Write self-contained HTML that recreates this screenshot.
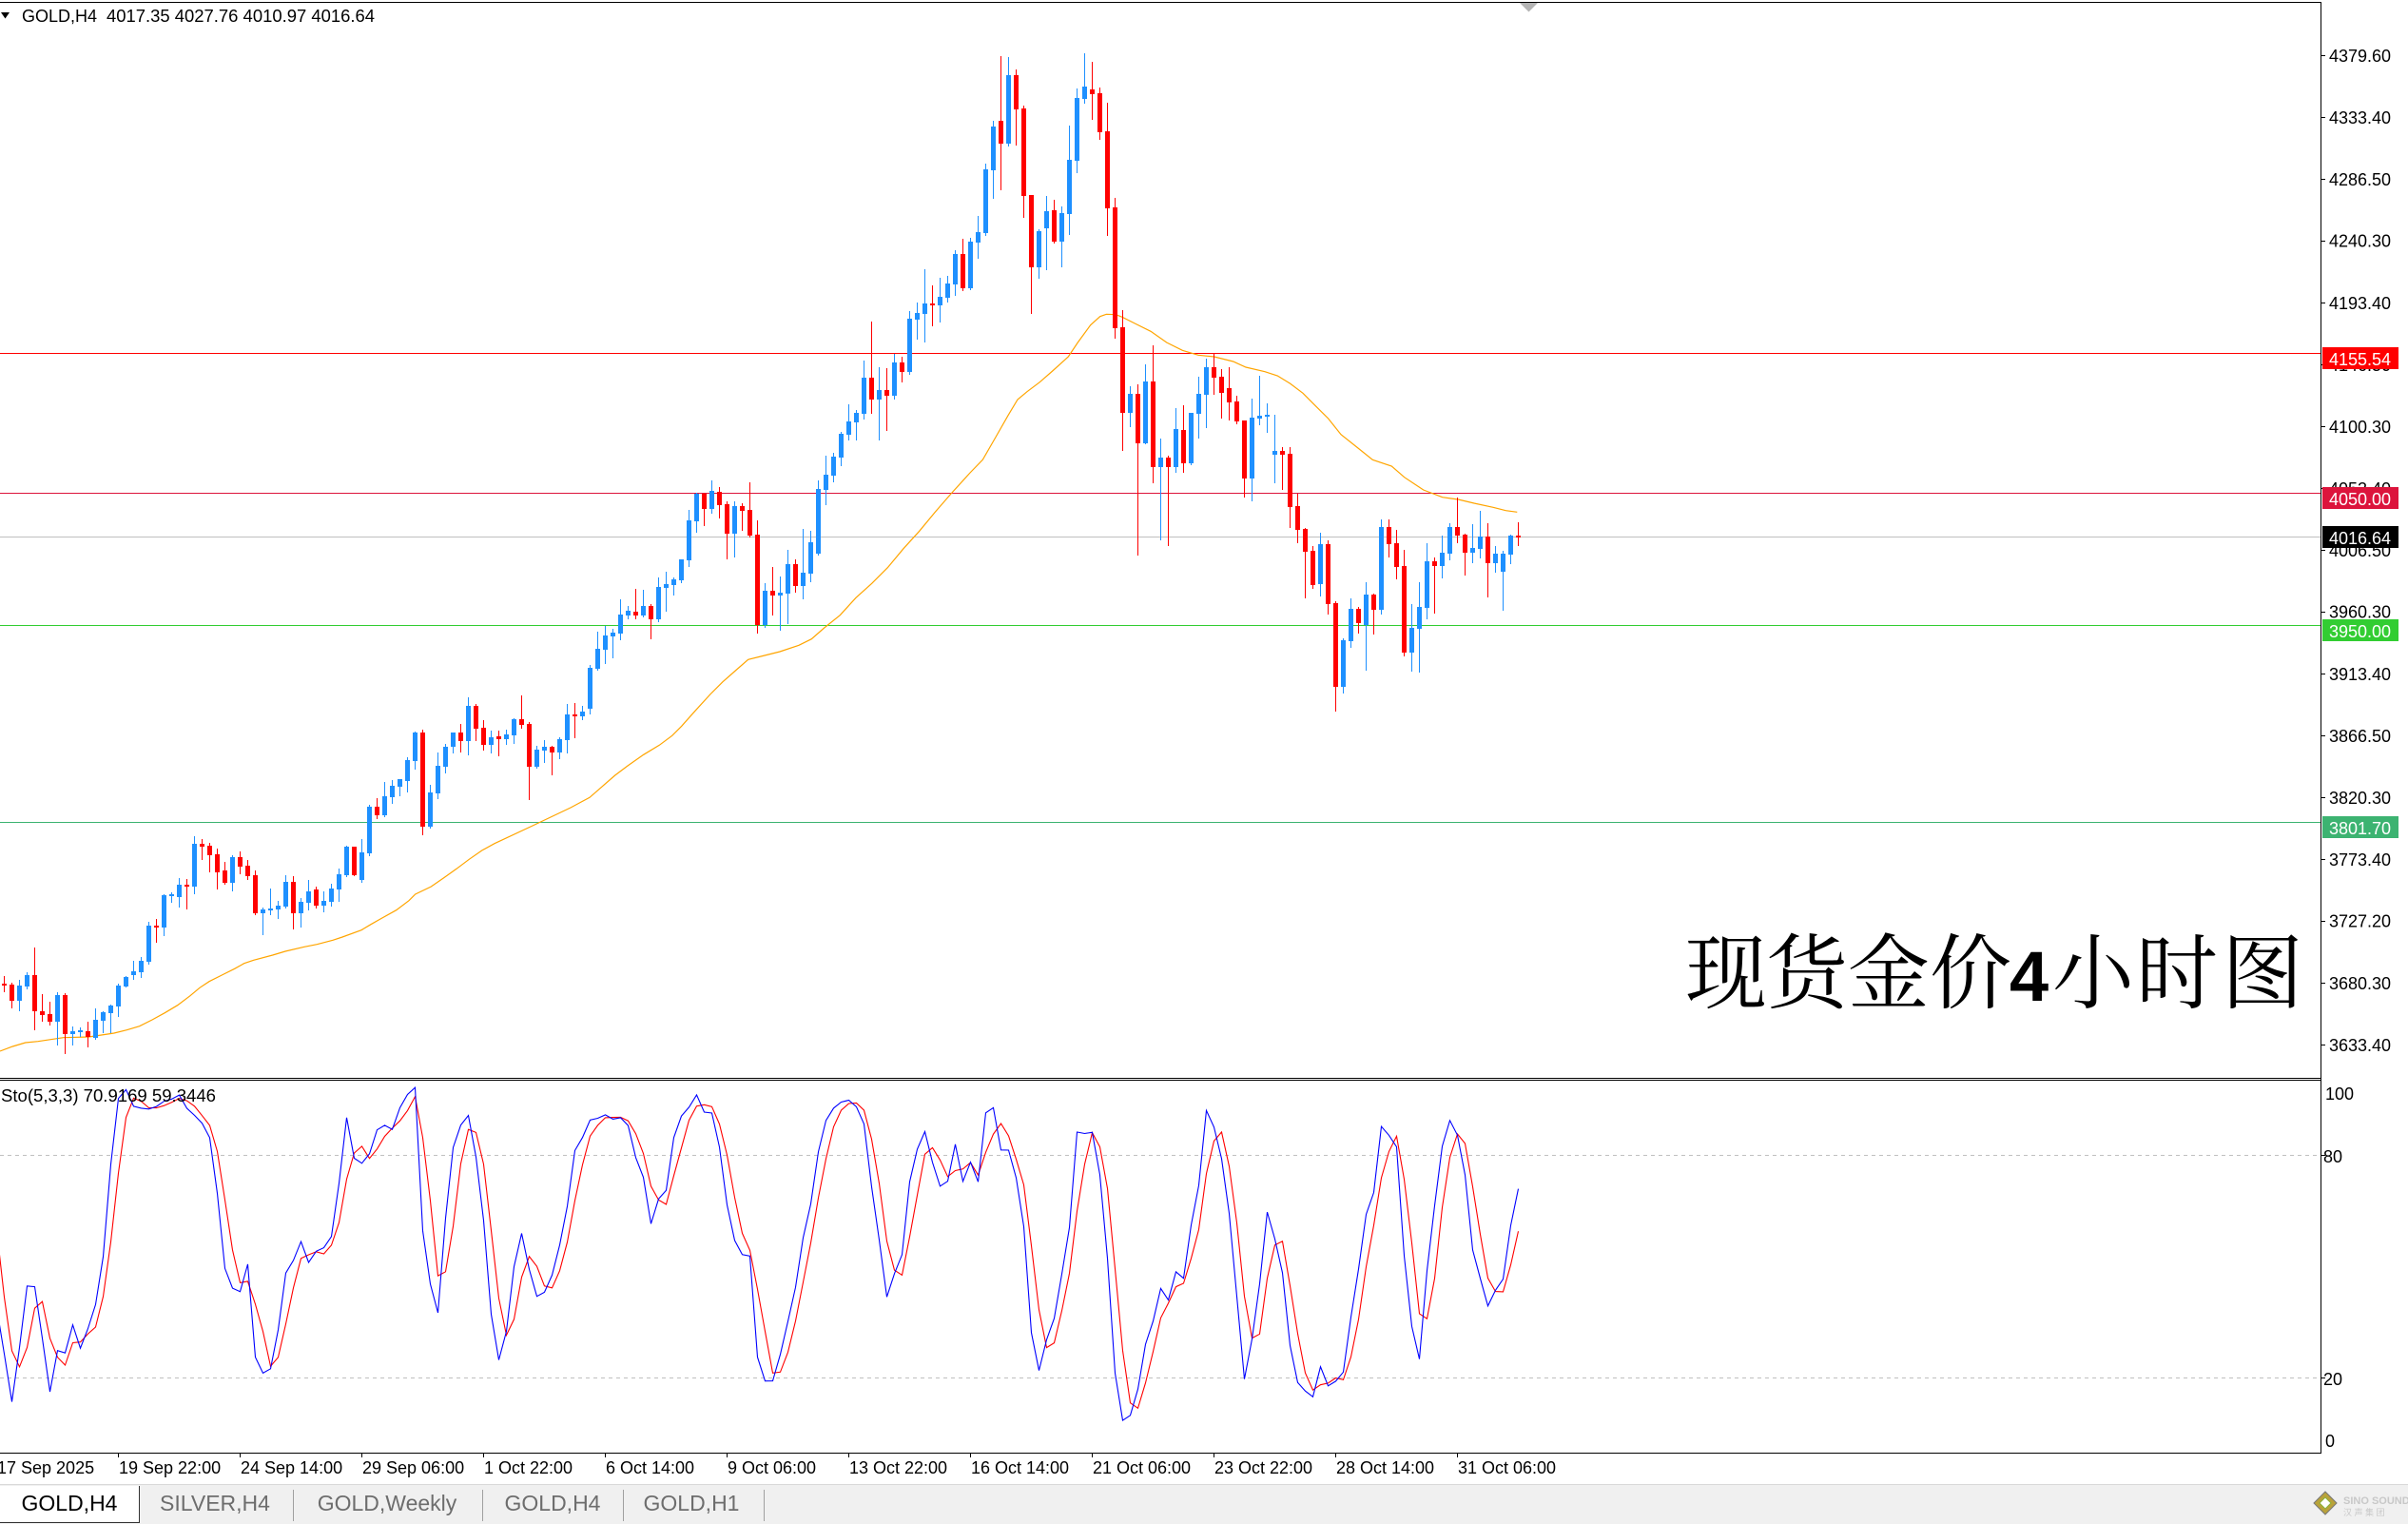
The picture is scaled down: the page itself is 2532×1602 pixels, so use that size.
<!DOCTYPE html>
<html><head><meta charset="utf-8">
<style>
html,body{margin:0;padding:0;background:#fff;width:2532px;height:1602px;overflow:hidden}
svg{display:block}
text{font-family:"Liberation Sans",sans-serif}
</style></head><body>
<svg id="c" width="2532" height="1602" viewBox="0 0 2532 1602" xmlns="http://www.w3.org/2000/svg">
<rect width="2532" height="1602" fill="#fff"/>

<!-- horizontal level lines -->
<g shape-rendering="crispEdges" stroke-width="1">
<line x1="0" x2="2440" y1="371.5" y2="371.5" stroke="#ff0000"/>
<line x1="0" x2="2440" y1="518.5" y2="518.5" stroke="#dc143c"/>
<line x1="0" x2="2440" y1="564.5" y2="564.5" stroke="#c0c0c0"/>
<line x1="0" x2="2440" y1="657.5" y2="657.5" stroke="#32cd32"/>
<line x1="0" x2="2440" y1="864.5" y2="864.5" stroke="#3cb371"/>
</g>

<!-- MA -->
<polyline fill="none" stroke="#ffa500" stroke-width="1.2" points="0,1105 13.3,1100 26.7,1096 40,1094.7 53.3,1092.7 66.7,1090.7 93.3,1090 106.7,1088 120,1086 133.3,1082.7 146.7,1078.7 160,1072 173.3,1064.7 186.7,1056.7 200,1046.7 210,1038.3 220,1031.7 233.3,1025 246.7,1018.3 256.7,1012.7 266.7,1009.3 286.7,1004 300,1000 320,995.3 333.3,992.7 350,988.3 360,985 380,977.7 390,971.7 400,966 416.7,956.7 430,946.7 436.7,940 453.3,932 466.7,922.7 480,913.3 493.3,903.3 506.7,894 520,886.7 560,868 600,849 620,838.3 633.3,826.7 646.7,815 660,805 676.7,793.3 693.3,783.3 706.7,773.3 716.7,763.3 730,748.3 746.7,730 760,716.7 773.3,705 786.7,693.3 800,690 820,685 840,678.3 853.3,671.7 866.7,660 883.3,646.7 900,628.3 916.7,613.3 933.3,596.7 950,576.7 966.7,558.3 983.3,538.3 1000,519 1020,497 1033.3,483.3 1046.7,460 1060,436.7 1070,420 1080,411.7 1093.3,401.7 1106.7,390 1123.3,375 1133.3,360 1146.7,341.7 1156.7,332.7 1163.3,330.3 1173.3,330.7 1180,333.3 1193.3,340 1210,348.3 1226.7,360 1243.3,368.3 1260,373.3 1276.7,375 1296.7,380 1310,386 1330,390.7 1343.3,395 1356.7,403.3 1370,413.3 1383.3,426.7 1396.7,440 1410,456.7 1426.7,470 1443.3,483.3 1463.3,490 1476.7,501.7 1496.7,515 1516.7,522.7 1533.3,525 1550,529 1570,533.3 1583.3,536.7 1595.3,538.3"/>

<g id="candles" shape-rendering="crispEdges"></g>

<!-- big title -->
<g font-size="86" fill="#000">
<text x="1772" y="1053" style="font-family:'Noto Serif CJK SC',serif">现</text>
<text x="1857" y="1053" style="font-family:'Noto Serif CJK SC',serif">货</text>
<text x="1943" y="1053" style="font-family:'Noto Serif CJK SC',serif">金</text>
<text x="2029" y="1053" style="font-family:'Noto Serif CJK SC',serif">价</text>
<text x="2158" y="1053" style="font-family:'Noto Serif CJK SC',serif">小</text>
<text x="2246" y="1053" style="font-family:'Noto Serif CJK SC',serif">时</text>
<text x="2336" y="1053" style="font-family:'Noto Serif CJK SC',serif">图</text>
</g>
<text x="2113" y="1052" font-size="74" font-weight="bold" fill="#000">4</text>

<!-- stochastic pane -->
<g shape-rendering="crispEdges">
<line x1="0" x2="2440" y1="1214.5" y2="1214.5" stroke="#c0c0c0" stroke-dasharray="4,4"/>
<line x1="0" x2="2440" y1="1448.5" y2="1448.5" stroke="#c0c0c0" stroke-dasharray="4,4"/>
</g>
<g id="stoch"></g>

<!-- frame -->
<g shape-rendering="crispEdges" fill="#000">
<rect x="0" y="2" width="2441" height="1"/>
<rect x="2440" y="2" width="1" height="1526"/>
<rect x="0" y="1133" width="2441" height="1"/>
<rect x="0" y="1135" width="2441" height="1"/>
<rect x="0" y="1527" width="2441" height="1"/>
</g>
<polygon points="1598,3 1617,3 1607.5,12.5" fill="#b4b4b4"/>

<!-- header -->
<polygon points="1,13 10,13 5.5,19.5" fill="#000"/>
<text x="23" y="23" font-size="18" fill="#000">GOLD,H4</text>
<text x="112" y="23" font-size="18" fill="#000" textLength="282" lengthAdjust="spacingAndGlyphs">4017.35 4027.76 4010.97 4016.64</text>
<text x="1" y="1158" font-size="18" fill="#000" textLength="226" lengthAdjust="spacingAndGlyphs">Sto(5,3,3) 70.9169 59.3446</text>

<!-- price axis -->
<g id="pax" font-size="18" fill="#000"></g>
<g shape-rendering="crispEdges" font-size="18">
<rect x="2442" y="365" width="80" height="23" fill="#ff0000"/>
<text x="2449" y="384" fill="#fff">4155.54</text>
<rect x="2442" y="512" width="80" height="23" fill="#dc143c"/>
<text x="2449" y="531" fill="#fff">4050.00</text>
<rect x="2442" y="553" width="80" height="23" fill="#000"/>
<text x="2449" y="572" fill="#fff">4016.64</text>
<rect x="2442" y="651" width="80" height="23" fill="#32cd32"/>
<text x="2449" y="670" fill="#fff">3950.00</text>
<rect x="2442" y="858" width="80" height="23" fill="#3cb371"/>
<text x="2449" y="877" fill="#fff">3801.70</text>
</g>
<g font-size="18" fill="#000">
<text x="2445" y="1156">100</text>
<text x="2443" y="1222">80</text>
<text x="2443" y="1456">20</text>
<text x="2445" y="1521">0</text>
</g>
<g shape-rendering="crispEdges" fill="#000">
<rect x="2440" y="1214" width="5" height="1"/>
<rect x="2440" y="1448" width="5" height="1"/>
</g>

<!-- time axis -->
<g id="tax" font-size="18" fill="#000"></g>

<!-- tab bar -->
<rect x="0" y="1560" width="2532" height="42" fill="#f0f0f0"/>
<rect x="0" y="1560" width="2532" height="1" fill="#d9d9d9" shape-rendering="crispEdges"/>
<rect x="0" y="1562" width="146" height="38" fill="#fff"/>
<g shape-rendering="crispEdges">
<rect x="146" y="1562" width="1" height="39" fill="#333"/>
<rect x="0" y="1600" width="147" height="1" fill="#333"/>
<rect x="308" y="1566" width="1" height="33" fill="#a0a0a0"/>
<rect x="507" y="1566" width="1" height="33" fill="#a0a0a0"/>
<rect x="655" y="1566" width="1" height="33" fill="#a0a0a0"/>
<rect x="803" y="1566" width="1" height="33" fill="#a0a0a0"/>
</g>
<g font-size="23" text-anchor="middle">
<text x="73" y="1588" fill="#000">GOLD,H4</text>
<text x="226" y="1588" fill="#6d6d6d">SILVER,H4</text>
<text x="407" y="1588" fill="#6d6d6d">GOLD,Weekly</text>
<text x="581" y="1588" fill="#6d6d6d">GOLD,H4</text>
<text x="727" y="1588" fill="#6d6d6d">GOLD,H1</text>
</g>
<!-- logo -->
<polygon points="2445,1568 2457,1580 2445,1592 2433,1580" fill="#b9a23a" stroke="#777" stroke-width="1"/>
<polygon points="2445,1574 2451,1580 2445,1586 2439,1580" fill="#fff" stroke="#8bb33a" stroke-width="1"/>
<text x="2464" y="1581" font-size="11" font-weight="bold" fill="#c8c8c8">SINO SOUND</text>
<text x="2464" y="1593" font-size="9" fill="#c8c8c8" style="font-family:'Liberation Sans','Noto Sans CJK SC',sans-serif">汉 声 集 团</text>
</svg>
<script>
(function(){
var D=[[1,1026,1034,1036,1042],[1,1033,1035,1052,1059],[0,1030,1036,1052,1062],[0,1022,1025,1037,1039],[1,996,1025,1063,1082],[1,1045,1063,1067,1073],[1,1053,1066,1074,1077],[0,1043,1046,1074,1098],[1,1044,1046,1087,1107],[0,1079,1084,1087,1098],
[0,1080,1083,1085,1089],[1,1074,1084,1090,1100],[0,1060,1072,1091,1092],[0,1063,1064,1073,1085],[0,1056,1057,1065,1085],[0,1034,1036,1058,1068],[0,1026,1027,1037,1037],[0,1010,1021,1025,1029],[0,1006,1010,1022,1027],[0,969,973,1011,1013],
[1,966,973,975,990],[0,940,941,975,983],[0,938,940,942,948],[0,923,930,943,953],[1,924,930,932,955],[0,879,887,932,939],[1,882,887,890,903],[1,886,889,899,916],[1,892,898,917,934],[1,906,915,928,929],
[0,899,901,928,936],[1,895,901,911,918],[1,904,910,921,924],[1,915,920,960,961],[0,954,956,960,982],[0,934,955,957,961],[0,947,952,956,965],[0,920,927,953,954],[1,921,927,960,976],[0,944,948,960,974],
[0,925,937,949,956],[1,932,935,952,954],[0,937,947,952,958],[0,929,934,948,952],[0,913,919,935,947],[0,889,890,920,921],[1,890,890,920,920],[0,882,896,925,927],[0,846,848,897,899],[1,839,848,857,860],
[0,822,837,857,858],[0,820,826,838,844],[0,819,819,827,836],[0,796,799,821,832],[0,769,770,800,808],[1,767,770,869,877],[0,825,833,869,870],[0,791,805,834,839],[0,782,785,806,812],[0,770,770,785,791],
[1,761,770,779,790],[0,733,742,779,793],[1,740,742,766,778],[1,757,765,783,788],[0,768,775,783,791],[1,768,774,777,794],[0,767,772,777,782],[0,755,756,773,781],[1,731,756,762,765],[1,759,761,806,840],
[0,784,788,806,807],[0,778,785,789,801],[1,784,785,791,814],[0,775,777,791,797],[0,740,751,778,791],[1,739,751,753,775],[0,742,748,753,756],[0,699,702,745,750],[0,664,682,703,704],[0,658,668,683,697],
[0,661,665,669,691],[0,630,646,666,672],[0,637,642,647,650],[1,619,643,647,650],[0,620,637,647,648],[1,635,637,651,671],[0,607,617,651,653],[0,601,614,618,642],[0,607,609,615,625],[0,588,588,610,612],
[0,536,547,589,595],[0,518,519,548,559],[1,518,519,535,552],[0,505,516,535,539],[1,512,517,531,544],[1,527,530,561,587],[0,527,532,561,585],[1,529,532,537,557],[1,507,536,563,564],[1,547,562,657,665],
[0,613,621,657,659],[1,596,621,626,646],[0,606,623,626,662],[0,578,593,624,655],[1,588,593,616,622],[0,556,602,616,629],[0,558,570,603,611],[0,505,514,582,583],[0,479,499,515,530],[0,476,480,500,506],
[0,454,456,481,489],[0,425,443,457,462],[0,431,434,444,462],[0,379,397,435,440],[1,338,397,420,434],[0,386,410,420,462],[1,387,410,416,452],[0,372,381,416,419],[1,375,381,391,401],[0,327,335,391,393],
[0,318,329,336,356],[0,283,319,330,359],[1,300,319,321,342],[0,292,312,321,338],[0,290,298,313,317],[0,263,267,299,310],[1,251,267,303,305],[0,250,254,303,304],[0,227,244,255,271],[0,172,178,245,247],
[0,127,133,179,208],[1,59,127,151,199],[0,60,79,151,153],[1,73,79,115,152],[1,111,114,206,228],[1,205,205,281,329],[0,241,243,281,292],[0,206,222,240,283],[1,210,221,254,255],[0,217,224,254,280],
[0,132,168,225,246],[0,93,103,169,181],[0,56,91,104,108],[1,65,94,99,125],[1,92,98,139,146],[1,108,138,219,247],[1,208,218,345,355],[1,326,344,434,473],[0,406,414,434,448],[1,404,414,466,583],
[0,383,401,466,466],[1,363,401,491,507],[0,461,481,491,567],[1,479,481,491,573],[0,429,451,491,496],[1,426,452,487,496],[0,434,434,487,488],[0,396,414,435,460],[0,377,386,415,449],[1,372,386,397,414],
[1,388,396,413,439],[1,386,408,423,441],[1,416,422,443,445],[1,442,442,503,522],[0,419,439,503,526],[0,395,437,440,446],[0,424,436,438,454],[0,436,474,478,507],[1,470,474,478,514],[1,470,477,533,554],
[1,519,532,557,570],[1,555,556,580,628],[1,574,579,615,618],[0,560,572,614,626],[1,568,572,635,645],[1,632,634,722,747],[0,671,673,722,728],[0,629,640,674,680],[1,638,640,655,665],[0,612,625,657,704],
[1,624,625,641,666],[0,546,554,641,645],[1,546,554,572,585],[1,557,571,596,608],[1,578,595,686,689],[0,635,660,686,705],[0,612,638,661,706],[0,571,590,639,650],[1,586,590,595,644],[0,563,581,595,607],
[0,550,554,582,588],[1,523,554,563,570],[1,561,562,581,604],[0,551,576,581,591],[0,537,564,577,586],[1,550,564,592,627],[0,574,582,592,601],[0,579,582,601,641],[0,562,563,583,592],[1,549,563,565,573]];
var n=D.length,s="",i,j;
for(i=0;i<n;i++){var d=D[i],x=4+8*i,col=d[0]?"#ff0000":"#1e90ff";
s+='<rect x="'+x+'" y="'+d[1]+'" width="1" height="'+(d[4]-d[1]+1)+'" fill="'+col+'"/>';
s+='<rect x="'+(x-2)+'" y="'+d[2]+'" width="5" height="'+Math.max(1,d[3]-d[2])+'" fill="'+col+'"/>';}
document.getElementById("candles").innerHTML=s;
var C=D.map(function(d){return d[0]?d[3]:d[2];});
function raw(j){var hh=1e9,ll=-1e9;for(var k=Math.max(0,j-4);k<=j;k++){hh=Math.min(hh,D[k][1]);ll=Math.max(ll,D[k][4]);}return [ll-C[j],ll-hh];}
var Ko=[26.5,13.6,28.2,44.8,44.6,30.7],Do=[41.8,27.3,23,28.2,38.8,40.6,30.7,25.6];
var K=[],DD=[];
for(i=0;i<n;i++){if(i<6){K[i]=Ko[i];}else{var a=0,b=0;for(j=i-2;j<=i;j++){var r=raw(j);a+=r[0];b+=r[1];}K[i]=b?100*a/b:50;}}
for(i=0;i<n;i++){DD[i]=i<8?Do[i]:(K[i]+K[i-1]+K[i-2])/3;}
function pts(arr,first){var p=["-3.5,"+(1526.5-3.9*first).toFixed(1)];for(var i=0;i<arr.length;i++){p.push((4.5+8*i)+","+(1526.5-3.9*arr[i]).toFixed(1));}return p.join(" ");}
document.getElementById("stoch").innerHTML='<polyline fill="none" stroke="#ff0000" stroke-width="1.1" points="'+pts(DD,60)+'"/><polyline fill="none" stroke="#0000ff" stroke-width="1.1" points="'+pts(K,39)+'"/>';
var T=[["4379.60",58],["4333.40",123],["4286.50",188],["4240.30",252.5],["4193.40",318],["4146.50",383],["4100.30",448],["4053.40",513],["4006.50",578],["3960.30",642.5],["3913.40",708],["3866.50",773],["3820.30",838],["3773.40",903],["3727.20",967.5],["3680.30",1033],["3633.40",1098]];
s="";for(i=0;i<T.length;i++){s+='<rect x="2440" y="'+Math.round(T[i][1])+'" width="5" height="1" fill="#000" shape-rendering="crispEdges"/><text x="2449" y="'+(T[i][1]+7)+'">'+T[i][0]+'</text>';}
document.getElementById("pax").innerHTML=s;
var L=["17 Sep 2025","19 Sep 22:00","24 Sep 14:00","29 Sep 06:00","1 Oct 22:00","6 Oct 14:00","9 Oct 06:00","13 Oct 22:00","16 Oct 14:00","21 Oct 06:00","23 Oct 22:00","28 Oct 14:00","31 Oct 06:00"];
s="";for(i=0;i<L.length;i++){var tx=124+128*(i-1);s+='<rect x="'+tx+'" y="1527" width="1" height="5" fill="#000" shape-rendering="crispEdges"/><text x="'+(tx+1)+'" y="1549">'+L[i]+'</text>';}
document.getElementById("tax").innerHTML=s;
})();
</script>
</body></html>
